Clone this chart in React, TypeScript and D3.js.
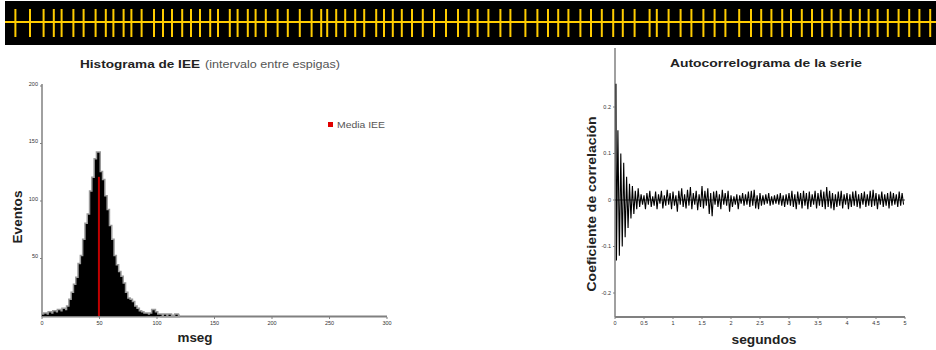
import React from "react";
import * as d3 from "d3";

// Spike train (ms)
const spikeTimesMs = [
  52, 125, 193, 244, 283, 342, 393, 453, 504, 542, 593, 632, 683, 745, 790, 835, 886, 930, 975,
  1026, 1065, 1124, 1163, 1214, 1253, 1304, 1363, 1414, 1474, 1533, 1581, 1611, 1656, 1701, 1751,
  1796, 1856, 1895, 1939, 1984, 2035, 2089, 2145, 2205, 2265, 2318, 2363, 2417, 2477, 2527, 2602,
  2662, 2715, 2766, 2817, 2877, 2930, 2984, 3041, 3089, 3148, 3223, 3259, 3318, 3378, 3432, 3492,
  3548, 3602, 3671, 3730, 3781, 3832, 3886, 3930, 3984, 4035, 4086, 4133, 4178, 4229, 4274, 4318,
  4363, 4414, 4468, 4521, 4572, 4626,
];
const spikeWindowMs = [0, 4655];

// Histogram of inter-spike intervals (2 ms bins starting at 0)
const histBinWidthMs = 2;
const histCounts = [
  1, 2, 1, 3, 2, 4, 3, 5, 4, 6,
  5, 8, 14, 20, 27, 33, 45, 52, 66, 80,
  88, 108, 120, 136, 142, 125, 118, 104, 92, 78,
  66, 52, 44, 38, 34, 28, 20, 15, 14, 12,
  8, 6, 4, 3, 2, 2, 1, 2, 5, 3,
  1, 1, 0, 1, 0, 1, 0, 0, 1, 0,
];
const meanIEE = 49.5;
const meanIEEHeight = 121;
const histXTicks = [0, 50, 100, 150, 200, 250, 300];
const histYTicks = [50, 100, 150, 200];

// Autocorrelogram (step 0.025 s)
const acfStep = 0.025;
const acfValues = [
  0.25, -0.13, 0.15, -0.12, 0.1, -0.1, 0.08, -0.08, 0.05, -0.06,
  0.035, -0.04, 0.03, -0.03, 0.02, -0.02, 0.025, -0.015, 0.012, -0.01,
  0.01, -0.02, 0.015, -0.01, 0.02, -0.015, 0.008, -0.012, 0.018, -0.02,
  0.012, -0.008, 0.02, -0.018, 0.01, -0.012, 0.022, -0.01, 0.015, -0.02,
  0.018, -0.012, 0.01, -0.025, 0.02, -0.01, 0.025, -0.015, 0.012, -0.018,
  0.022, -0.012, 0.028, -0.02, 0.015, -0.01, 0.02, -0.022, 0.012, -0.015,
  0.03, -0.018, 0.02, -0.012, 0.025, -0.03, 0.015, -0.035, 0.018, -0.01,
  0.02, -0.015, 0.012, -0.02, 0.022, -0.01, 0.015, -0.012, 0.02, -0.025,
  0.01, -0.015, 0.008, -0.01, 0.012, -0.02, 0.01, -0.008, 0.015, -0.012,
  0.012, -0.01, 0.018, -0.015, 0.02, -0.012, 0.022, -0.018, 0.01, -0.02,
  0.015, -0.012, 0.01, -0.01, 0.012, -0.008, 0.015, -0.012, 0.008, -0.01,
  0.01, -0.008, 0.012, -0.01, 0.015, -0.012, 0.01, -0.015, 0.012, -0.01,
  0.015, -0.012, 0.02, -0.015, 0.012, -0.02, 0.018, -0.01, 0.015, -0.018,
  0.02, -0.012, 0.015, -0.02, 0.018, -0.015, 0.012, -0.01, 0.02, -0.018,
  0.015, -0.012, 0.022, -0.015, 0.018, -0.02, 0.028, -0.015, 0.02, -0.018,
  0.015, -0.022, 0.012, -0.015, 0.018, -0.012, 0.02, -0.018, 0.012, -0.01,
  0.015, -0.02, 0.012, -0.015, 0.018, -0.012, 0.02, -0.015, 0.012, -0.018,
  0.015, -0.01, 0.018, -0.015, 0.012, -0.012, 0.02, -0.015, 0.022, -0.012,
  0.015, -0.02, 0.012, -0.01, 0.018, -0.015, 0.012, -0.012, 0.015, -0.018,
  0.018, -0.012, 0.015, -0.01, 0.012, -0.015, 0.018, -0.012, 0.015, -0.01,
];
const acfXTicks = [0, 0.5, 1, 1.5, 2, 2.5, 3, 3.5, 4, 4.5, 5];
const acfYTicks = [-0.2, -0.1, 0, 0.1, 0.2];

const FONT = "'Liberation Sans', Arial, sans-serif";

export default function App() {
  // Spike band
  const bx = d3.scaleLinear().domain(spikeWindowMs).range([5, 936]);

  // Histogram
  const hx = d3.scaleLinear().domain([0, 300]).range([42, 387]);
  const hy = d3.scaleLinear().domain([0, 200]).range([316, 86]);
  const histPts = histCounts.map((c, i) => ({ x: i * histBinWidthMs, y: c }));
  histPts.push({ x: histCounts.length * histBinWidthMs, y: 0 });
  const histArea = d3
    .area<{ x: number; y: number }>()
    .x((d) => hx(d.x))
    .y0(hy(0))
    .y1((d) => hy(d.y))
    .curve(d3.curveStepAfter)(histPts) as string;
  const histLine = d3
    .line<{ x: number; y: number }>()
    .x((d) => hx(d.x))
    .y((d) => hy(d.y))
    .curve(d3.curveStepAfter)(histPts) as string;

  // Autocorrelogram
  const ax = d3.scaleLinear().domain([0, 5]).range([615, 905]);
  const ay = d3.scaleLinear().domain([-0.2, 0.2]).range([293, 107]);
  const acfLine = d3
    .line<number>()
    .x((_, i) => ax(i * acfStep) + (i === 0 ? 1 : 0))
    .y((d) => ay(d))(acfValues) as string;

  const fmtAcfX = (v: number) => (Number.isInteger(v) ? String(v) : v.toFixed(1));

  return (
    <svg
      width={936}
      height={350}
      style={{ position: "absolute", left: 0, top: 0, background: "#fff" }}
      fontFamily={FONT}
    >
      {/* Spike train band */}
      <rect x={5} y={1} width={931} height={44} fill="#000" />
      <line x1={5} x2={936} y1={22} y2={22} stroke="#ffcc00" strokeWidth={2.2} />
      {spikeTimesMs.map((t, i) => (
        <line key={i} x1={bx(t)} x2={bx(t)} y1={9} y2={37} stroke="#ffcc00" strokeWidth={2} />
      ))}

      {/* Histogram */}
      <text x={80} y={68} fontSize={11} fontWeight="bold" fill="#222" textLength={120} lengthAdjust="spacingAndGlyphs">
        Histograma de IEE
      </text>
      <text x={205} y={68} fontSize={10} fill="#555" textLength={135} lengthAdjust="spacingAndGlyphs">
        (intervalo entre espigas)
      </text>
      <line x1={42} x2={42} y1={84} y2={317} stroke="#808080" strokeWidth={1.5} />
      <line x1={42} x2={387} y1={316.5} y2={316.5} stroke="#808080" strokeWidth={2} />
      <path d={histLine} fill="none" stroke="#9a9a9a" strokeWidth={3} />
      <path d={histArea} fill="#000" />
      <line
        x1={hx(meanIEE)}
        x2={hx(meanIEE)}
        y1={hy(0)}
        y2={hy(meanIEEHeight)}
        stroke="#c00000"
        strokeWidth={2}
      />
      {histYTicks.map((t) => (
        <g key={t}>
          <line x1={40} x2={42} y1={hy(t)} y2={hy(t)} stroke="#808080" />
          <text x={38} y={hy(t) - 0.5} textAnchor="end" fontSize={5.5} fill="#333">
            {t}
          </text>
        </g>
      ))}
      {histXTicks.map((t) => (
        <g key={t}>
          <line x1={hx(t)} x2={hx(t)} y1={317} y2={319} stroke="#808080" />
          <text x={hx(t)} y={325} textAnchor="middle" fontSize={5.5} fill="#333">
            {t}
          </text>
        </g>
      ))}
      <text
        transform="translate(22,217) rotate(-90)"
        textAnchor="middle"
        fontSize={12}
        fontWeight="bold"
        fill="#222"
        textLength={53}
        lengthAdjust="spacingAndGlyphs"
      >
        Eventos
      </text>
      <text x={195} y={342} textAnchor="middle" fontSize={12.5} fontWeight="bold" fill="#222" textLength={35} lengthAdjust="spacingAndGlyphs">
        mseg
      </text>
      <rect x={328} y={122} width={5} height={5} fill="#e00000" />
      <text x={337} y={128} fontSize={8.5} fill="#555" textLength={48} lengthAdjust="spacingAndGlyphs">
        Media IEE
      </text>

      {/* Autocorrelogram */}
      <text x={670} y={67} fontSize={11} fontWeight="bold" fill="#222" textLength={192} lengthAdjust="spacingAndGlyphs">
        Autocorrelograma de la serie
      </text>
      <line x1={615} x2={615} y1={48} y2={317} stroke="#808080" strokeWidth={1.5} />
      <line x1={615} x2={905} y1={317} y2={317} stroke="#808080" strokeWidth={2} />
      <line x1={615} x2={905} y1={ay(0)} y2={ay(0)} stroke="#444" strokeWidth={1} />
      <path d={acfLine} fill="none" stroke="#000" strokeWidth={1.1} />
      {acfYTicks.map((t) => (
        <g key={t}>
          <line x1={613} x2={615} y1={ay(t)} y2={ay(t)} stroke="#808080" />
          <text x={611} y={ay(t) + 1.5} textAnchor="end" fontSize={5.5} fill="#333">
            {t === 0 ? "0" : t.toFixed(1)}
          </text>
        </g>
      ))}
      {acfXTicks.map((t) => (
        <g key={t}>
          <line x1={ax(t)} x2={ax(t)} y1={317} y2={319} stroke="#808080" />
          <text x={ax(t)} y={325} textAnchor="middle" fontSize={5.5} fill="#333">
            {fmtAcfX(t)}
          </text>
        </g>
      ))}
      <text
        transform="translate(596,204) rotate(-90)"
        textAnchor="middle"
        fontSize={12}
        fontWeight="bold"
        fill="#222"
        textLength={175}
        lengthAdjust="spacingAndGlyphs"
      >
        Coeficiente de correlación
      </text>
      <text x={764} y={344} textAnchor="middle" fontSize={12.5} fontWeight="bold" fill="#222" textLength={65} lengthAdjust="spacingAndGlyphs">
        segundos
      </text>
    </svg>
  );
}
